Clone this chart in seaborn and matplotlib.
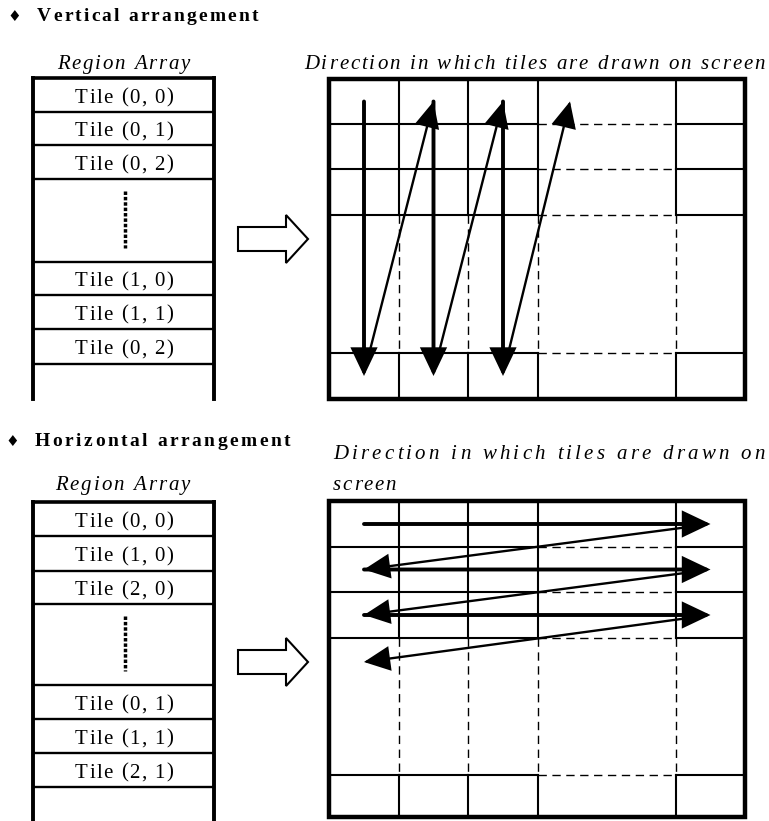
import matplotlib
matplotlib.use("Agg")
import matplotlib.pyplot as plt
import seaborn as sns
from matplotlib.font_manager import FontProperties
from matplotlib.patches import Polygon, FancyArrowPatch

# ---------------- data ----------------
section_titles = ["Vertical arrangement", "Horizontal arrangement"]
array_title = "Region Array"
screen_title = "Direction in which tiles are drawn on screen"
vertical_tiles = ["Tile (0, 0)", "Tile (0, 1)", "Tile (0, 2)",
                  "Tile (1, 0)", "Tile (1, 1)", "Tile (0, 2)"]
horizontal_tiles = ["Tile (0, 0)", "Tile (1, 0)", "Tile (2, 0)",
                    "Tile (0, 1)", "Tile (1, 1)", "Tile (2, 1)"]
# screen grid cell edges (columns) and row edges for each section
grid_cols = [329, 399, 468, 538, 676, 745]
grid_rows_v = [79, 124, 169, 215, 353, 399]
grid_rows_h = [501, 547, 592, 638, 775, 817]
# region array row edges (top part, gap, bottom part)
array_rows_v = [78, 112, 145, 179, 262, 295, 329, 364]
array_rows_h = [502, 536, 571, 604, 685, 719, 753, 787]

sns.set_theme(style="white")
plt.rcParams['font.family'] = ['Liberation Serif', 'DejaVu Sans']

W, H = 769, 821
fig = plt.figure(figsize=(W / 100, H / 100), dpi=100)
ax = fig.add_axes([0, 0, 1, 1])
ax.set_xlim(0, W)
ax.set_ylim(H, 0)
ax.axis('off')
renderer = fig.canvas.get_renderer()
PX = 100 / 72.0


def text_width(s, prop):
    w1 = renderer.get_text_width_height_descent("x" + s + "x", prop, ismath=False)[0]
    w0 = renderer.get_text_width_height_descent("xx", prop, ismath=False)[0]
    return w1 - w0


def tracked(s, x0, x1, yc, size, style='normal', weight='normal'):
    prop = FontProperties(family=['Liberation Serif', 'DejaVu Sans'], size=size,
                          style=style, weight=weight)
    ws = [text_width(c, prop) for c in s]
    extra = (x1 - x0 - sum(ws)) / max(len(s) - 1, 1)
    base = yc + 0.33 * size * PX
    x = x0
    for c, w in zip(s, ws):
        if c != ' ':
            ax.text(x, base, c, fontproperties=prop, ha='left', va='baseline',
                    color='black')
        x += w + extra


def seg(x0, y0, x1, y1, lw, dashed=False):
    if dashed:
        ax.plot([x0, x1], [y0, y1], color='black', lw=lw, ls=(0, (6, 4)),
                solid_capstyle='butt', dash_capstyle='butt')
    else:
        ax.plot([x0, x1], [y0, y1], color='black', lw=lw,
                solid_capstyle='projecting')


def draw_grid(xs, ys, big=3):
    for j in range(1, len(ys) - 1):
        for i in range(len(xs) - 1):
            seg(xs[i], ys[j], xs[i + 1], ys[j], 1.0 if i == big else 1.5, dashed=(i == big))
    for i in range(1, len(xs) - 1):
        for j in range(len(ys) - 1):
            seg(xs[i], ys[j], xs[i], ys[j + 1], 1.0 if j == big else 1.5, dashed=(j == big))
    ax.add_patch(plt.Rectangle((xs[0], ys[0]), xs[-1] - xs[0], ys[-1] - ys[0],
                               fill=False, lw=3.2, ec='black', joinstyle='miter'))


def draw_array(rows, bottom, labels):
    x0, x1 = 33, 214
    seg(x0, rows[0], x0, bottom, 2.8)
    seg(x1, rows[0], x1, bottom, 2.8)
    seg(x0, rows[0], x1, rows[0], 2.6)
    for r in rows[1:]:
        ax.plot([x0, x1], [r, r], color='black', lw=1.7)
    cells = [(rows[0], rows[1]), (rows[1], rows[2]), (rows[2], rows[3]),
             (rows[4], rows[5]), (rows[5], rows[6]), (rows[6], rows[7])]
    for (a, b), lab in zip(cells, labels):
        tracked(lab, 75, 173, (a + b) / 2 + 1, 15)
    gap_a, gap_b = rows[3], rows[4]
    ax.plot([125, 125], [gap_a + 12, gap_b - 14], color='black', lw=2.5,
            ls=(0, (1, 0.55)), dash_capstyle='butt')


def block_arrow(yc):
    pts = [(238, yc - 12), (286, yc - 12), (286, yc - 24), (308, yc),
           (286, yc + 24), (286, yc + 12), (238, yc + 12)]
    ax.add_patch(Polygon(pts, closed=True, fc='white', ec='black', lw=1.5))


def arrow(p0, p1, lw):
    ax.add_patch(FancyArrowPatch(p0, p1, arrowstyle='-|>,head_length=0.8,head_width=0.38',
                                 mutation_scale=20, lw=lw, color='black',
                                 shrinkA=0, shrinkB=0, joinstyle='miter'))


# ---------------- vertical arrangement ----------------
ax.text(14.5, 15 + 6, "\u2666", fontsize=11, ha='center', va='baseline',
        family=['DejaVu Sans'], color='black')
tracked(section_titles[0], 37, 258, 15, 14, weight='bold')
tracked(array_title, 57, 190, 62, 15, style='italic')
tracked(screen_title, 304, 765, 62, 15, style='italic')
draw_array(array_rows_v, 399, vertical_tiles)
block_arrow(239)
draw_grid(grid_cols, grid_rows_v)

centers = [(grid_cols[i] + grid_cols[i + 1]) / 2 for i in range(3)]
top_c = (grid_rows_v[0] + grid_rows_v[1]) / 2
bot_c = (grid_rows_v[-2] + grid_rows_v[-1]) / 2
next_x = centers + [grid_cols[3] + 32]
for k in range(3):
    arrow((centers[k], top_c), (centers[k], bot_c), 2.8)
    arrow((centers[k] + 4, grid_rows_v[-2] + 5), (next_x[k + 1], top_c), 1.7)

# ---------------- horizontal arrangement ----------------
ax.text(12.5, 440 + 6, "\u2666", fontsize=11, ha='center', va='baseline',
        family=['DejaVu Sans'], color='black')
tracked(section_titles[1], 35, 290, 440, 14, weight='bold')
tracked(array_title, 55, 190, 483, 15, style='italic')
tracked("Direction in which tiles are drawn on", 333, 765, 452, 15, style='italic')
tracked("screen", 333, 396, 483, 15, style='italic')
draw_array(array_rows_h, 821, horizontal_tiles)
block_arrow(662)
draw_grid(grid_cols, grid_rows_h)

left_c = (grid_cols[0] + grid_cols[1]) / 2
right_c = (grid_cols[-2] + grid_cols[-1]) / 2
rcent = [(grid_rows_h[j] + grid_rows_h[j + 1]) / 2 for j in range(3)]
next_y = rcent + [grid_rows_h[3] + 24]
for k in range(3):
    arrow((left_c, rcent[k]), (right_c, rcent[k]), 2.8)
    arrow((right_c - 22, rcent[k] + 3), (left_c, next_y[k + 1]), 1.7)

fig.savefig("out.png", dpi=100, facecolor='white')
